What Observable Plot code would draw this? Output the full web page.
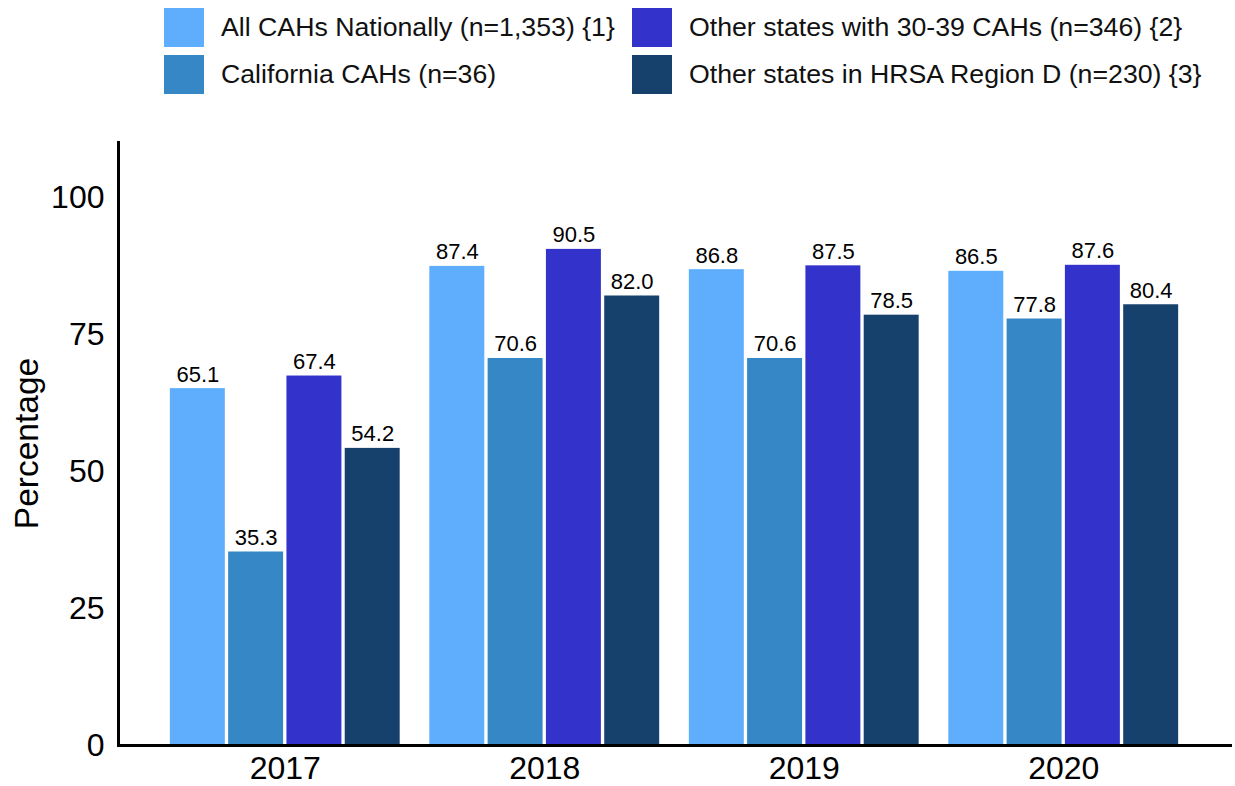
<!DOCTYPE html>
<html>
<head>
<meta charset="utf-8">
<script src="https://cdn.jsdelivr.net/npm/d3@7"></script>
<script src="https://cdn.jsdelivr.net/npm/@observablehq/plot@0.6"></script>
<style>
  html, body { margin: 0; padding: 0; background: #fff; }
  body { width: 1235px; height: 786px; overflow: hidden; font-family: "Liberation Sans", Arial, sans-serif; }
  #legend { position: relative; width: 1235px; height: 100px; }
  .sw { position: absolute; width: 40px; height: 39px; }
  .lt { position: absolute; font-size: 26.7px; line-height: 39px; color: #111; white-space: nowrap; }
  #chart svg { display: block; }
</style>
</head>
<body>
<div id="legend"></div>
<div id="chart"></div>
<script>
const years = ["2017", "2018", "2019", "2020"];
const seriesNames = [
  "All CAHs Nationally (n=1,353) {1}",
  "California CAHs (n=36)",
  "Other states with 30-39 CAHs (n=346) {2}",
  "Other states in HRSA Region D (n=230) {3}"
];
const seriesColors = ["#5eaefd", "#3587c6", "#3333cc", "#17416d"];
const allNational = [65.1, 87.4, 86.8, 86.5];
const california = [35.3, 70.6, 70.6, 77.8];
const other3039 = [67.4, 90.5, 87.5, 87.6];
const regionD = [54.2, 82.0, 78.5, 80.4];
const yTicks = [0, 25, 50, 75, 100];

const seriesValues = [allNational, california, other3039, regionD];
const data = [];
years.forEach((yr, i) => {
  seriesNames.forEach((s, j) => {
    data.push({year: yr, series: s, value: seriesValues[j][i]});
  });
});

// Legend (column-major: 2 rows x 2 columns)
const legend = document.getElementById("legend");
const colLeft = [164, 632];
const rowTop = [8, 55];
seriesNames.forEach((s, j) => {
  const col = Math.floor(j / 2), row = j % 2;
  const sw = document.createElement("div");
  sw.className = "sw";
  sw.style.left = colLeft[col] + "px";
  sw.style.top = rowTop[row] + "px";
  sw.style.background = seriesColors[j];
  legend.appendChild(sw);
  const t = document.createElement("div");
  t.className = "lt";
  t.style.left = (colLeft[col] + 57) + "px";
  t.style.top = rowTop[row] + "px";
  t.textContent = s;
  legend.appendChild(t);
});

const W = 1235, H = 686, ML = 118, MT = 42, MB = 41, MR = 5;
const fxInner = 0.0886, fxOuter = 0.187;
const fxStep = (W - ML - MR) / (years.length - fxInner + 2 * fxOuter);
const outerGap = fxOuter * fxStep; // gap between plot frame and first/last group

const chart = Plot.plot({
  width: W,
  height: H,
  marginLeft: ML,
  marginRight: MR,
  marginTop: MT,
  marginBottom: MB,
  style: {fontFamily: "'Liberation Sans', Arial, sans-serif", color: "#000", background: "#fff"},
  fx: {domain: years, paddingInner: fxInner, paddingOuter: fxOuter, round: false, label: null},
  x: {domain: seriesNames, padding: 0.057, round: false, axis: null},
  y: {domain: [0, 110], axis: null},
  color: {domain: seriesNames, range: seriesColors},
  marks: [
    Plot.barY(data, {fx: "year", x: "series", y: "value", fill: "series"}),
    Plot.text(data, {
      fx: "year", x: "series", y: "value",
      text: d => d.value.toFixed(1),
      fontSize: 22, fill: "#000", lineAnchor: "bottom", dy: -7
    }),
    Plot.axisY({ticks: yTicks, tickSize: 0, tickPadding: 14 + outerGap, fontSize: 32, label: null, anchor: "left"}),
    Plot.axisFx({anchor: "bottom", tickSize: 0, tickPadding: 10.5, fontSize: 32, label: null}),
    Plot.frame({anchor: "left", stroke: "#000", strokeWidth: 3, facet: "super", insetLeft: -outerGap, insetRight: -outerGap}),
    Plot.frame({anchor: "bottom", stroke: "#000", strokeWidth: 3, facet: "super", insetLeft: -outerGap, insetRight: -outerGap})
  ]
});

d3.select(chart).append("text")
  .attr("transform", `translate(26, ${(MT + (H - MB)) / 2}) rotate(-90)`)
  .attr("text-anchor", "middle")
  .attr("dominant-baseline", "central")
  .attr("font-size", 33.5)
  .attr("font-family", "'Liberation Sans', Arial, sans-serif")
  .attr("fill", "#000")
  .text("Percentage");

document.getElementById("chart").appendChild(chart);
</script>
</body>
</html>
